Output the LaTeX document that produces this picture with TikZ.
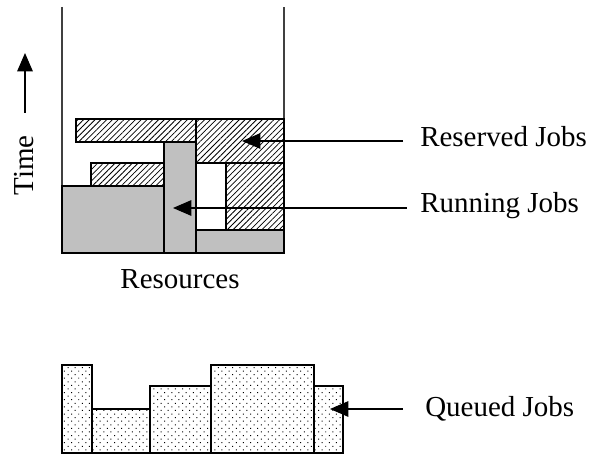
\documentclass[tikz,border=0pt]{standalone}
\usepackage{fontspec}
\setmainfont{Liberation Serif}
\usetikzlibrary{patterns.meta,arrows.meta}
\definecolor{rungray}{RGB}{192,192,192}

\begin{document}
\begin{tikzpicture}[x=0.025cm, y=-0.025cm,
	every node/.style={font=\fontsize{20.6pt}{24pt}\selectfont, inner sep=0pt},
	wall/.style={line width=1.4pt, black!75},
	reserved/.style={draw, line width=0.8pt, pattern={Lines[angle=45, distance=2.9pt, line width=0.55pt]}},
	running/.style={draw, line width=0.8pt, fill=rungray},
	queued/.style={draw, line width=0.8pt, pattern={Dots[angle=45, distance=3.6pt, radius=0.5pt]}},
	pointer/.style={line width=0.8pt, -{Triangle[length=13pt,width=11pt]}}]
	\useasboundingbox (0,0) rectangle (589,457);
	\draw[wall] (62,7) -- (62,253) -- (284,253) -- (284,7);
	\draw[reserved] (76,119) rectangle (196,142);
	\draw[reserved] (196,119) rectangle (284,163);
	\draw[reserved] (91,163) rectangle (164,186);
	\draw[reserved] (226,163) rectangle (284,230);
	\draw[running] (62,186) rectangle (164,253);
	\draw[running] (164,142) rectangle (196,253);
	\draw[running] (196,230) rectangle (284,253);
	\draw[queued] (62,365) rectangle (92,453);
	\draw[queued] (92,409) rectangle (150,453);
	\draw[queued] (150,386) rectangle (211,453);
	\draw[queued] (211,365) rectangle (314,453);
	\draw[queued] (314,386) rectangle (343,453);
	\coordinate (restip) at (242,141);
	\coordinate (runtip) at (173,208);
	\coordinate (quetip) at (330,409);
	\coordinate (timetip) at (25,53);
	\node[anchor=base west] (reslbl) at (420,147) {Reserved Jobs};
	\node[anchor=base west] (runlbl) at (420,213) {Running Jobs};
	\node[anchor=base west] (quelbl) at (425,416) {Queued Jobs};
	\node[anchor=base] (reslabel) at (180,289) {Resources};
	\node[anchor=base, rotate=90] (timelbl) at (33,165.5) {Time};
	\draw[pointer, shorten <=15\pgflinewidth] (reslbl.west |- restip) -- (restip);
	\draw[pointer, shorten <=12\pgflinewidth] (runlbl.west |- runtip) -- (runtip);
	\draw[pointer, shorten <=20\pgflinewidth] (quelbl.west |- quetip) -- (quetip);
	\draw[pointer, shorten <=20\pgflinewidth] (timetip |- timelbl.east) -- (timetip);
\end{tikzpicture}
\end{document}
